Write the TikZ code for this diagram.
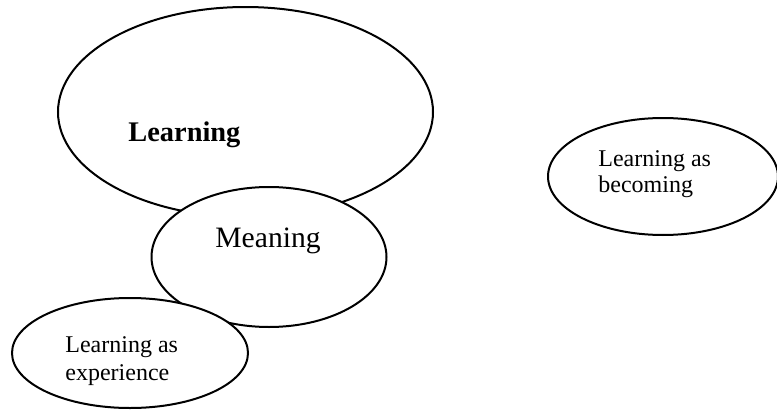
\documentclass[tikz,border=0pt]{standalone}
\usepackage{fontspec}
\setmainfont{Liberation Serif}
\usetikzlibrary{shapes.geometric}
\tikzset{
  bubble/.style={draw=black, line width=1pt, ellipse, fill=white, inner sep=0pt},
  lbl/.style={inner sep=0pt, anchor=base west, font=\fontsize{12}{14}\selectfont},
}
\begin{document}
\begin{tikzpicture}[x=0.5pt,y=-0.5pt]
\clip (0,0) rectangle (777,412);
\fill[white] (0,0) rectangle (777,412);
\node[bubble, minimum width=187.5pt, minimum height=105pt] (learn) at (245.5,112) {};
\node[bubble, minimum width=117.5pt, minimum height=70pt] (mean) at (269,257) {};
\node[bubble, minimum width=118pt, minimum height=55pt] (exp) at (130,353) {};
\node[bubble, minimum width=115pt, minimum height=58.5pt] (bec) at (663,176.5) {};
\node[lbl, font=\fontsize{14.2}{16}\selectfont\bfseries] (tlearn) at (128,141) {Learning};
\node[lbl, font=\fontsize{14.8}{17}\selectfont] (tmean) at (215,247) {Meaning};
\node[lbl] (texp1) at (65,352) {Learning as};
\node[lbl] (texp2) at (65,380) {experience};
\node[lbl] (tbec1) at (598,166) {Learning as};
\node[lbl] (tbec2) at (598,192) {becoming};
\end{tikzpicture}
\end{document}
